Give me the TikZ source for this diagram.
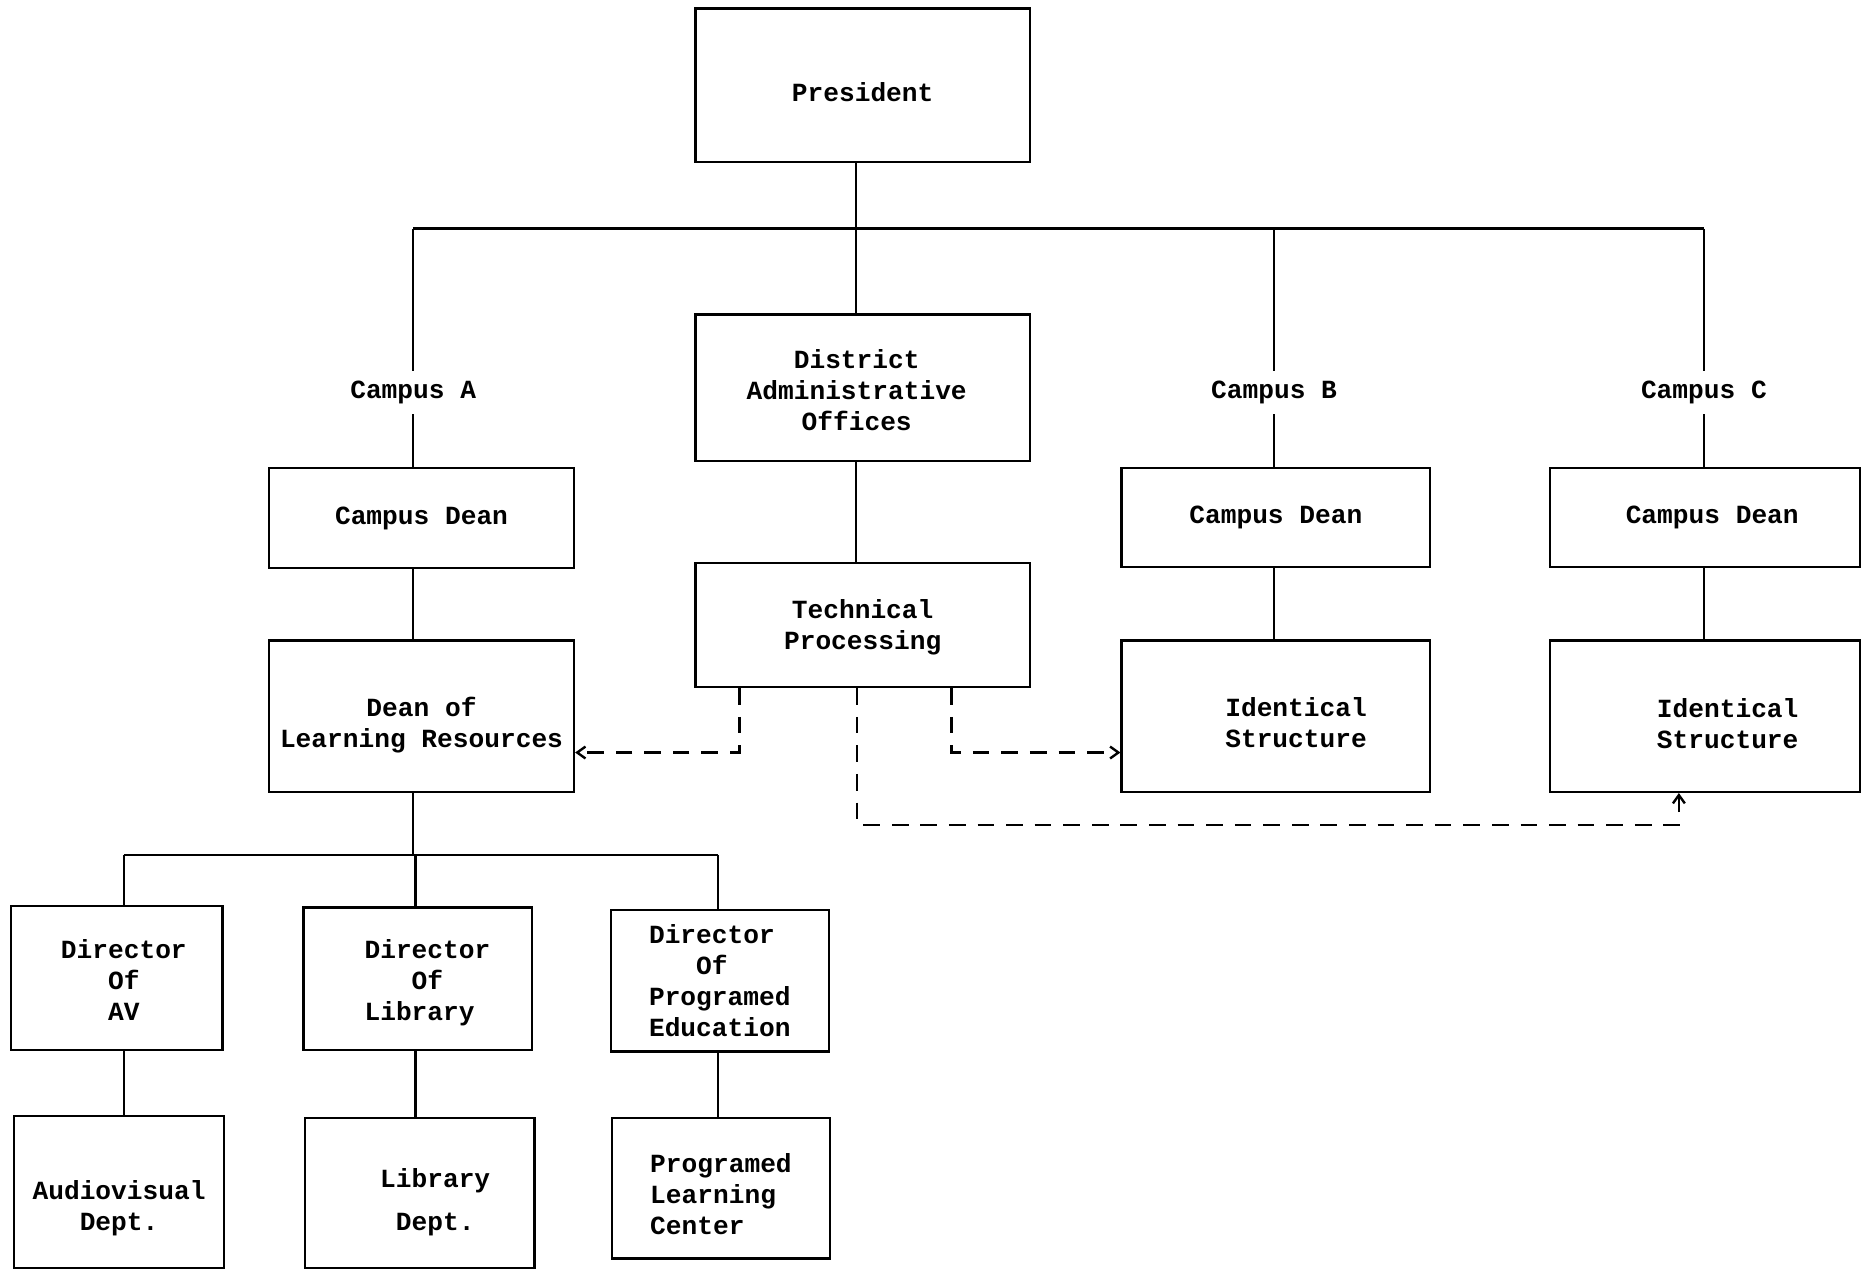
\documentclass[tikz,border=0pt]{standalone}
\usepackage{fontspec}
\newfontfamily\mono{Liberation Mono}
\usetikzlibrary{arrows.meta}
\newcommand\dn[1]{\rule{0pt}{#1}}
\begin{document}
\begin{tikzpicture}[x=0.5pt,y=-0.5pt,
  txt/.style={font=\mono\bfseries\fontsize{11}{13}\selectfont},
  box/.style n args={2}{draw,line width=1pt,inner sep=0pt,align=center,txt,minimum width=#1,minimum height=#2},
  lab/.style={inner sep=4pt,txt},
  conn/.style={line width=1pt},
  dline/.style={line width=1pt,dash pattern=on 7pt off 5pt,-{Straight Barb[length=3.5pt,width=5pt]}}]
\useasboundingbox (0,0) rectangle (1568,1067);
% top
\node[box={140.5pt}{64.5pt}] (pres) at (724.5,71.5) {\dn{14.1pt}President};
\node[box={140.5pt}{61.5pt}] (dao) at (724.5,325.5) {\dn{10.1pt}\hspace*{-5pt}District\\\hspace*{-5pt}Administrative\\\hspace*{-5pt}Offices};
\node[box={140.5pt}{52pt}] (tp) at (724.5,525) {\dn{9.4pt}Technical\\Processing};
% campus labels
\node[lab] (campA) at (347,330) {Campus A};
\node[lab] (campB) at (1070,330) {Campus B};
\node[lab] (campC) at (1431,330) {Campus C};
\coordinate (bar) at (719,192);
% campus A column
\node[box={128pt}{42pt}] (cdA) at (354,435) {Campus Dean};
\node[box={128pt}{63.5pt}] (dolr) at (354,601.5) {\dn{15.4pt}Dean of\\Learning Resources};
% campus B, C
\node[box={129.5pt}{41.5pt}] (cdB) at (1071.5,434.5) {Campus Dean};
\node[box={129.5pt}{63.5pt}] (idB) at (1071.5,601.5) {\dn{13.1pt}\hspace*{17pt}Identical\\\hspace*{17pt}Structure};
\node[box={130pt}{41.5pt}] (cdC) at (1432,434.5) {\hspace*{6pt}Campus Dean};
\node[box={130pt}{63.5pt}] (idC) at (1432,601.5) {\dn{14.1pt}\hspace*{19pt}Identical\\\hspace*{19pt}Structure};
% directors
\node[box={89pt}{60.5pt}] (dirAV) at (98,821.5) {\dn{9.6pt}\hspace*{6pt}Director\\\hspace*{6pt}Of\\\hspace*{6pt}AV};
\node[box={96pt}{60pt},align=left] (dirLib) at (351,822) {\dn{11.4pt}\hspace*{8pt}Director\\\hspace*{27.8pt}Of\\\hspace*{8pt}Library};
\node[box={91.5pt}{59.5pt},align=left] (dirPE) at (604.5,823.5) {Director\\\hspace*{19.8pt}Of\\Programed\\Education};
% departments
\node[box={88pt}{64pt}] (avd) at (100,1001) {\dn{21.9pt}Audiovisual\\Dept.};
\node[box={96.5pt}{63pt}] (libd) at (352.5,1002) {\dn{15.9pt}\hspace*{13pt}Library\\[5pt]\hspace*{13pt}Dept.};
\node[box={91.5pt}{59pt},align=left] (plc) at (605.5,998) {\dn{12.6pt}Programed\\Learning\\Center};
% solid connectors
\draw[conn] (pres.south -| bar) -- (dao.north -| bar);
\draw[conn] (campA |- bar) -- (campC |- bar);
\draw[conn] (campA |- bar) -- (campA.north);
\draw[conn] (campB |- bar) -- (campB.north);
\draw[conn] (campC |- bar) -- (campC.north);
\draw[conn] (campA.south) -- (campA.south |- cdA.north);
\draw[conn] (campB.south) -- (campB.south |- cdB.north);
\draw[conn] (campC.south) -- (campC.south |- cdC.north);
\draw[conn] (dao.south -| bar) -- (tp.north -| bar);
\draw[conn] (cdA.south -| campA) -- (dolr.north -| campA);
\draw[conn] (cdB.south -| campB) -- (idB.north -| campB);
\draw[conn] (cdC.south -| campC) -- (idC.north -| campC);
\coordinate (bar2) at (347,718);
\coordinate (xAV) at (104,0);
\coordinate (xLib) at (349,0);
\coordinate (xPE) at (603,0);
\draw[conn] (dolr.south -| bar2) -- (bar2);
\draw[conn] (xAV |- bar2) -- (xPE |- bar2);
\draw[conn] (xAV |- bar2) -- (xAV |- dirAV.north);
\draw[conn] (xLib |- bar2) -- (xLib |- dirLib.north);
\draw[conn] (xPE |- bar2) -- (xPE |- dirPE.north);
\draw[conn] (xAV |- dirAV.south) -- (xAV |- avd.north);
\draw[conn] (xLib |- dirLib.south) -- (xLib |- libd.north);
\draw[conn] (xPE |- dirPE.south) -- (xPE |- plc.north);
% dashed connectors
\coordinate (d1) at (621,632);
\coordinate (d2) at (799,632);
\coordinate (d3) at (720,693);
\coordinate (d3e) at (1410,693);
\draw[dline] (tp.south -| d1) -- (d1) -- (dolr.east |- d1);
\draw[dline] (tp.south -| d2) -- (d2) -- (idB.west |- d2);
\draw[dline] (tp.south -| d3) -- (d3) -- (d3e) -- (idC.south -| d3e);
\end{tikzpicture}
\end{document}
